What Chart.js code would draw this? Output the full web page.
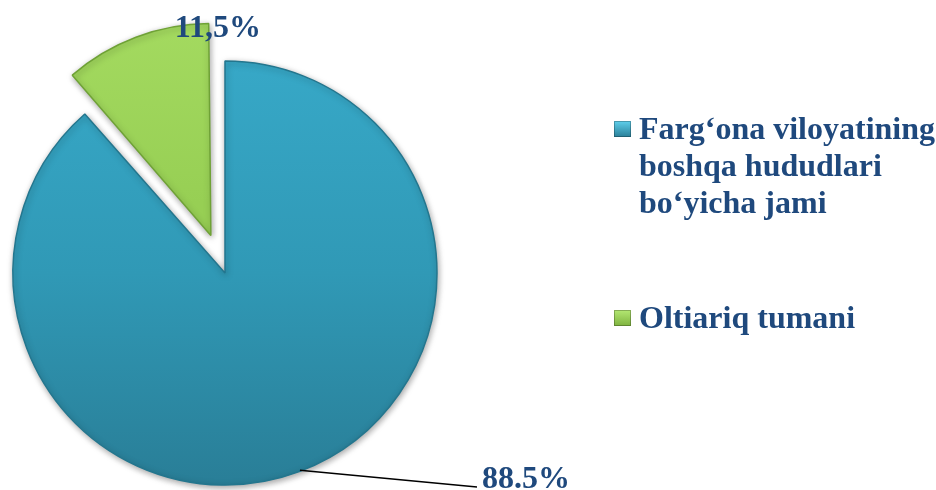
<!DOCTYPE html>
<html>
<head>
<meta charset="utf-8">
<script src="https://cdn.jsdelivr.net/npm/chart.js@4.4.1/dist/chart.umd.min.js"></script>
<style>
  html, body { margin: 0; padding: 0; background: #ffffff; }
  #wrap { position: relative; width: 936px; height: 490px; }
</style>
</head>
<body>
<div id="wrap"><canvas id="c" width="936" height="490"></canvas></div>
<script>
const categories = ["Farg‘ona viloyatining boshqa hududlari bo‘yicha jami", "Oltiariq tumani"];
const legendLines = [["Farg‘ona viloyatining", "boshqa hududlari", "bo‘yicha jami"], ["Oltiariq tumani"]];
const values = [88.5, 11.5];
const valueLabels = ["88.5%", "11,5%"];

const PIE_RADIUS = 212;
const TEXT_COLOR = '#1F497D';
const FONT = 'bold 32px "Liberation Serif", "Times New Roman", serif';

const canvas = document.getElementById('c');
const ctx0 = canvas.getContext('2d');
const blueGrad = ctx0.createLinearGradient(0, 61, 0, 485);
blueGrad.addColorStop(0, '#37A8C7');
blueGrad.addColorStop(0.5, '#3099B6');
blueGrad.addColorStop(1, '#297E97');
const greenGrad = ctx0.createLinearGradient(0, 25, 0, 240);
greenGrad.addColorStop(0, '#A6DC62');
greenGrad.addColorStop(1, '#97CF54');

// translation Chart.js applies to an exploded arc
function arcShift(arc) {
  const d = (arc.options.offset || 0) / 4;
  const half = (arc.startAngle + arc.endAngle) / 2;
  return { dx: Math.cos(half) * d, dy: Math.sin(half) * d };
}

// keep exploded slices at the same radius as the rest of the pie
const radiusFixPlugin = {
  id: 'radiusFix',
  beforeDatasetsDraw(chart) {
    const meta = chart.getDatasetMeta(0);
    meta.data.forEach(a => {
      const off = (a.options.offset || 0) / 4;
      const circ = a.endAngle - a.startAngle;
      const fix = 1 - Math.sin(Math.min(Math.PI, circ || 0));
      a.outerRadius = PIE_RADIUS - off * fix;
    });
  }
};

const shadowPlugin = {
  id: 'shadow',
  beforeDatasetsDraw(chart) {
    const c = chart.ctx;
    c.save();
    c.shadowColor = 'rgba(0,0,0,0.35)';
    c.shadowBlur = 6;
    c.shadowOffsetX = 1;
    c.shadowOffsetY = 2;
  },
  afterDatasetsDraw(chart) {
    chart.ctx.restore();
  }
};

const labelPlugin = {
  id: 'labels',
  afterDraw(chart) {
    const c = chart.ctx;
    const meta = chart.getDatasetMeta(0);
    c.save();
    c.font = FONT;
    c.fillStyle = TEXT_COLOR;
    c.textBaseline = 'alphabetic';
    // Blue slice label with leader line
    const a0 = meta.data[0];
    const mid0 = (a0.startAngle + a0.endAngle) / 2;
    const sx = a0.x + Math.cos(mid0) * PIE_RADIUS;
    const sy = a0.y + Math.sin(mid0) * PIE_RADIUS;
    const ex = a0.x + 252, ey = a0.y + 214;
    c.strokeStyle = '#000000';
    c.lineWidth = 1.5;
    c.beginPath();
    c.moveTo(sx, sy - 1);
    c.lineTo(ex, ey);
    c.stroke();
    c.textAlign = 'left';
    c.fillText(valueLabels[0], ex + 5, ey + 1);
    // Green slice label at top of exploded slice
    const a1 = meta.data[1];
    const s = arcShift(a1);
    const gx = a1.x + s.dx;
    const gy = a1.y + s.dy;
    c.textAlign = 'center';
    c.fillText(valueLabels[1], gx + 7, gy - PIE_RADIUS + 13);
    c.restore();
  }
};

const legendPlugin = {
  id: 'customLegend',
  afterDraw(chart) {
    const c = chart.ctx;
    const x0 = 614, textX = 639;
    const baselines = [[139, 176, 213], [328]];
    const markerColors = [['#5FD0EC', '#2A7F98'], ['#B4E873', '#7FB33F']];
    c.save();
    c.font = FONT;
    c.textAlign = 'left';
    c.textBaseline = 'alphabetic';
    legendLines.forEach((lines, i) => {
      const by = baselines[i][0];
      const my = by - 18;
      const g = c.createLinearGradient(0, my, 0, my + 16);
      g.addColorStop(0, markerColors[i][0]);
      g.addColorStop(1, markerColors[i][1]);
      c.fillStyle = g;
      c.fillRect(x0, my, 17, 16);
      c.strokeStyle = 'rgba(0,0,0,0.25)';
      c.lineWidth = 1;
      c.strokeRect(x0 + 0.5, my + 0.5, 16, 15);
      c.fillStyle = TEXT_COLOR;
      lines.forEach((ln, j) => c.fillText(ln, textX, baselines[i][j]));
    });
    c.restore();
  }
};

new Chart(canvas, {
  type: 'pie',
  data: {
    labels: categories,
    datasets: [{
      data: values,
      backgroundColor: [blueGrad, greenGrad],
      borderColor: ['#23768E', '#6FA236'],
      borderWidth: 1.5,
      offset: [0, 160],
      radius: PIE_RADIUS,
      clip: false
    }]
  },
  options: {
    responsive: false,
    animation: false,
    devicePixelRatio: 1,
    layout: { padding: { left: 13, right: 499, top: 61, bottom: 5 } },
    plugins: {
      legend: { display: false },
      tooltip: { enabled: false }
    }
  },
  plugins: [radiusFixPlugin, shadowPlugin, labelPlugin, legendPlugin]
});
</script>
</body>
</html>
